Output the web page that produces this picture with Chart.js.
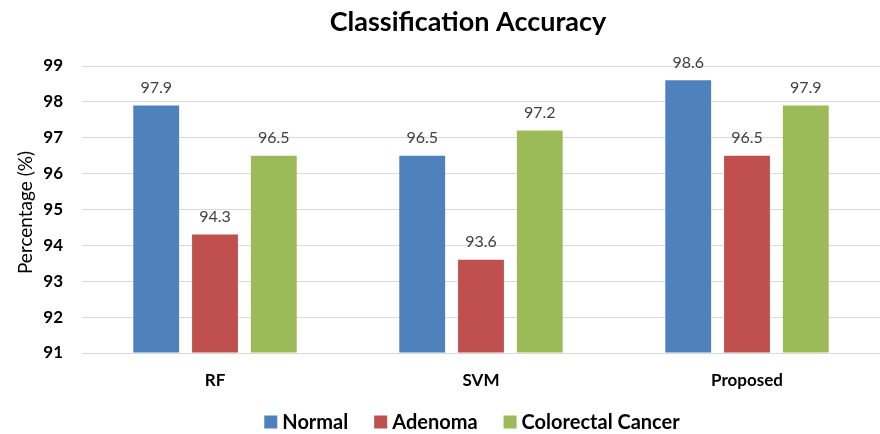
<!DOCTYPE html>
<html><head><meta charset="utf-8">
<script src="https://cdn.jsdelivr.net/npm/chart.js@4"></script>
<style>html,body{margin:0;padding:0;background:#fff}#wrap{width:880px;height:434px;position:relative}</style>
</head><body><div id="wrap"><canvas id="c" width="880" height="434"></canvas></div>
<script>
const categories = ["RF", "SVM", "Proposed"];
const seriesNames = ["Normal", "Adenoma", "Colorectal Cancer"];
const normalValues = [97.9, 96.5, 98.6];
const adenomaValues = [94.3, 93.6, 96.5];
const cancerValues = [96.5, 97.2, 97.9];
const yTicks = [91, 92, 93, 94, 95, 96, 97, 98, 99];
const colors = ["#4F81BD", "#C0504D", "#9BBB59"];
const titleText = "Classification Accuracy";
const yTitleText = "Percentage (%)";
const FONT = "Lato, 'Liberation Sans', sans-serif";

const textPlugin = {
  id: 'texts',
  afterDatasetsDraw(chart) {
    const ctx = chart.ctx;
    const area = chart.chartArea;
    ctx.save();
    // bar value labels
    ctx.font = "16px " + FONT;
    ctx.fillStyle = "#404040";
    ctx.textAlign = "center";
    ctx.textBaseline = "bottom";
    chart.data.datasets.forEach((ds, i) => {
      chart.getDatasetMeta(i).data.forEach((bar, j) => {
        ctx.fillText(ds.data[j].toFixed(1), bar.x, bar.y - 10);
      });
    });
    // title
    ctx.fillStyle = "#000";
    ctx.textBaseline = "middle";
    ctx.font = "bold 27px " + FONT;
    ctx.fillText(titleText, 468, 22);
    // y axis title
    ctx.save();
    ctx.translate(26, (area.top + area.bottom) / 2 + 3);
    ctx.rotate(-Math.PI / 2);
    ctx.font = "19px " + FONT;
    ctx.fillText(yTitleText, 0, 0);
    ctx.restore();
    // legend
    ctx.font = "bold 20px " + FONT;
    const box = 13, gap = 5, spacing = 26;
    const widths = chart.data.datasets.map(ds => ctx.measureText(ds.label).width);
    const total = widths.reduce((a, w) => a + box + gap + w, 0) + spacing * (widths.length - 1);
    let x = 472 - total / 2;
    const y = 422;
    ctx.textAlign = "left";
    chart.data.datasets.forEach((ds, i) => {
      ctx.fillStyle = ds.backgroundColor;
      ctx.fillRect(x, y - box / 2, box, box);
      ctx.fillStyle = "#000";
      ctx.fillText(ds.label, x + box + gap, y + 1);
      x += box + gap + widths[i] + spacing;
    });
    ctx.restore();
  }
};

new Chart(document.getElementById('c'), {
  type: 'bar',
  data: {
    labels: categories,
    datasets: [
      {label: seriesNames[0], data: normalValues, backgroundColor: colors[0]},
      {label: seriesNames[1], data: adenomaValues, backgroundColor: colors[1]},
      {label: seriesNames[2], data: cancerValues, backgroundColor: colors[2]}
    ]
  },
  options: {
    responsive: false,
    animation: false,
    layout: {padding: {left: 0, right: 0, top: 66, bottom: 44}},
    datasets: {bar: {categoryPercentage: 0.663, barPercentage: 0.78, base: 91}},
    plugins: {
      title: {display: false},
      legend: {display: false},
      tooltip: {enabled: false}
    },
    scales: {
      x: {
        afterFit: (axis) => { axis.height = 37; },
        grid: {display: false, drawTicks: false},
        border: {display: true, color: "#d9d9d9", width: 1},
        ticks: {color: "#000", padding: 17, font: {family: FONT, size: 17, weight: 'bold'}}
      },
      y: {
        min: 91, max: 99,
        afterFit: (axis) => { axis.width = 82; },
        afterBuildTicks: (axis) => { axis.ticks = yTicks.map(v => ({value: v})); },
        grid: {color: "#d9d9d9", drawTicks: false},
        border: {display: false},
        ticks: {color: "#000", padding: 19, font: {family: FONT, size: 17, weight: 'bold'}}
      }
    }
  },
  plugins: [textPlugin]
});
</script></body></html>
